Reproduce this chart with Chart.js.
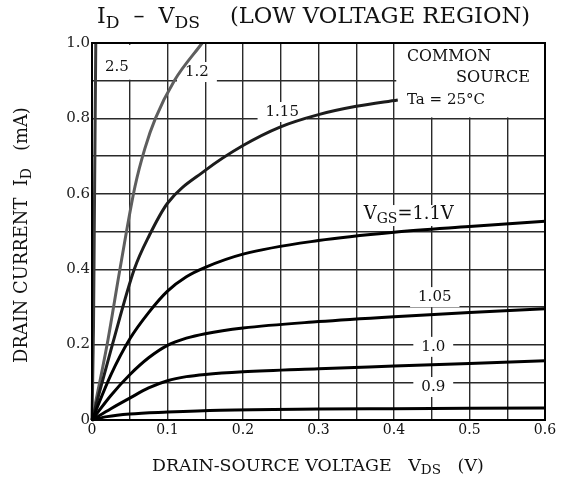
<!DOCTYPE html>
<html><head><meta charset="utf-8">
<script src="https://cdn.jsdelivr.net/npm/chart.js@4/dist/chart.umd.min.js"></script>
<style>html,body{margin:0;padding:0;background:#fff}#wrap{width:563px;height:483px}</style>
</head><body><div id="wrap"><canvas id="c" width="563" height="483"></canvas></div>
<script>
// Curves: [VDS (V), ID (mA)] per gate voltage
const vgs09  = [[0,0],[0.02,0.009],[0.05,0.016],[0.1,0.021],[0.17,0.026],[0.3,0.029],[0.4,0.03],[0.5,0.031],[0.6,0.032]];
const vgs10  = [[0,0],[0.025,0.03],[0.05,0.058],[0.075,0.085],[0.1,0.104],[0.125,0.115],[0.15,0.121],[0.2,0.128],[0.3,0.136],[0.4,0.143],[0.5,0.15],[0.6,0.157]];
const vgs105 = [[0,0],[0.025,0.065],[0.05,0.12],[0.075,0.165],[0.1,0.198],[0.125,0.217],[0.15,0.229],[0.2,0.244],[0.3,0.261],[0.4,0.274],[0.5,0.285],[0.6,0.295]];
const vgs11  = [[0,0],[0.025,0.12],[0.05,0.215],[0.075,0.285],[0.1,0.342],[0.125,0.38],[0.15,0.405],[0.2,0.44],[0.3,0.476],[0.4,0.498],[0.5,0.513],[0.6,0.527]];
const vgs115 = [[0,0],[0.027,0.2],[0.056,0.4],[0.076,0.49],[0.1,0.575],[0.15,0.662],[0.2,0.728],[0.249,0.777],[0.3,0.81],[0.35,0.832],[0.405,0.849]];
const vgs12  = [[0,0],[0.02,0.2],[0.037,0.4],[0.057,0.62],[0.07,0.72],[0.084,0.8],[0.109,0.9],[0.146,1.0]];
const vgs25  = [[0,0],[0.002,0.25],[0.003,0.5],[0.004,0.75],[0.005,1.0]];
const seriesLabels = ['0.9','1.0','1.05','1.1','1.15','1.2','2.5'];
const xTickValues = [0,0.1,0.2,0.3,0.4,0.5,0.6];
const yTickValues = [0,0.2,0.4,0.6,0.8,1.0];

const SERIF = '"DejaVu Serif","Liberation Serif",serif';
const toPts = a => a.map(p => ({x:p[0], y:p[1]}));
const allSeries = [vgs09, vgs10, vgs105, vgs11, vgs115, vgs12, vgs25];
const colors = ['#000','#000','#000','#000','#1c1c1c','#5e5e5e','#3a3a3a'];

// curve label annotations: [text, x(data), y(data)]
const curveNotes = [
  ['2.5', 0.033, 0.936],
  ['1.2', 0.139, 0.923],
  ['1.15', 0.252, 0.817],
  ['1.05', 0.454, 0.326],
  ['1.0', 0.452, 0.194],
  ['0.9', 0.452, 0.0875]
];

function textSub(ctx, parts, x, y, size) {
  let cx = x;
  for (const [t, sub] of parts) {
    ctx.font = (sub ? size*0.78 : size).toFixed(2) + 'px ' + SERIF;
    ctx.fillText(t, cx, sub ? y + size*0.28 : y);
    cx += ctx.measureText(t).width;
  }
  return cx - x;
}
function measureSub(ctx, parts, size) {
  let w = 0;
  for (const [t, sub] of parts) {
    ctx.font = (sub ? size*0.78 : size).toFixed(2) + 'px ' + SERIF;
    w += ctx.measureText(t).width;
  }
  return w;
}
function fitSub(ctx, parts, left, y, targetW) {
  const size = 20 * targetW / measureSub(ctx, parts, 20);
  textSub(ctx, parts, left, y, size);
}

const decor = {
  id: 'decor',
  beforeDatasetsDraw(chart) {
    const {ctx, scales:{x, y}} = chart;
    ctx.save();
    ctx.fillStyle = '#fff';
    ctx.font = '15px ' + SERIF;
    for (const [t, dx, dy] of curveNotes) {
      const w = ctx.measureText(t).width;
      const px = x.getPixelForValue(dx), py = y.getPixelForValue(dy);
      ctx.fillRect(px - w/2 - 8, py - 10, w + 16, 20);
    }
    const vx = x.getPixelForValue(0.358), vy = y.getPixelForValue(0.541);
    ctx.fillRect(vx - 4, vy - 11, 98, 21);
    ctx.fillRect(x.getPixelForValue(0.008), y.getPixelForValue(0.995), x.getPixelForValue(0.058)-x.getPixelForValue(0.008), y.getPixelForValue(0.9)-y.getPixelForValue(0.995)-1);
    const bx = x.getPixelForValue(0.403);
    ctx.fillRect(bx, y.top + 1, x.right - bx - 1, y.getPixelForValue(0.8) - y.top - 2);
    ctx.restore();
  },
  afterDraw(chart) {
    const {ctx, chartArea:a, scales:{x, y}} = chart;
    ctx.save();
    ctx.fillStyle = '#111';
    ctx.textBaseline = 'middle';
    ctx.textAlign = 'center';
    ctx.font = '15px ' + SERIF;
    for (const [t, dx, dy] of curveNotes) {
      ctx.fillText(t, x.getPixelForValue(dx), y.getPixelForValue(dy));
    }
    ctx.textAlign = 'left';
    fitSub(ctx, [['V',false],['GS',true],['=1.1V',false]], x.getPixelForValue(0.36), y.getPixelForValue(0.541) - 2, 90);
    fitSub(ctx, [['COMMON',false]], 407, 57, 84);
    fitSub(ctx, [['SOURCE',false]], 456, 78, 74);
    fitSub(ctx, [['Ta = 25°C',false]], 407, 100, 78);
    // frame
    ctx.strokeStyle = '#000';
    ctx.lineWidth = 2;
    ctx.strokeRect(a.left, a.top, a.right - a.left, a.bottom - a.top);
    // title
    ctx.fillStyle = '#111';
    fitSub(ctx, [['I',false],['D',true],['  –  ',false],['V',false],['DS',true]], 97, 17, 103);
    fitSub(ctx, [['(LOW VOLTAGE REGION)',false]], 230, 17, 300);
    // x axis title
    fitSub(ctx, [['DRAIN-SOURCE VOLTAGE   V',false],['DS',true],['   (V)',false]], 152, 466, 332);
    // y axis title
    ctx.translate(22, 363);
    ctx.rotate(-Math.PI/2);
    fitSub(ctx, [['DRAIN CURRENT  I',false],['D',true],['   (mA)',false]], 0, 0, 256);
    ctx.restore();
  }
};

const fmt = (v, list) => {
  const hit = list.find(t => Math.abs(t - v) < 1e-6);
  if (hit === undefined) return '';
  return hit === 0 ? '0' : hit.toFixed(1);
};

new Chart(document.getElementById('c'), {
  type: 'line',
  data: {
    datasets: allSeries.map((s, i) => ({
      label: seriesLabels[i],
      data: toPts(s),
      borderColor: colors[i],
      borderWidth: 3,
      pointRadius: 0,
      fill: false,
      cubicInterpolationMode: 'monotone',
      clip: 2
    }))
  },
  options: {
    responsive: false,
    animation: false,
    events: [],
    layout: { padding: { left: 0, right: 18, top: 43, bottom: 0 } },
    plugins: { legend: { display: false }, tooltip: { enabled: false }, title: { display: false } },
    scales: {
      x: {
        type: 'linear', min: 0, max: 0.6,
        afterFit: s => { s.height = 63; },
        afterBuildTicks: s => { s.ticks = Array.from({length: 13}, (_, i) => ({value: +(i*0.05).toFixed(2)})); },
        ticks: { autoSkip: false, maxRotation: 0, padding: 2, color: '#111',
          font: { family: SERIF, size: 14 }, callback: v => fmt(v, xTickValues) },
        grid: { color: '#2a2a2a', lineWidth: 1.4, drawTicks: false },
        border: { display: true, color: '#000', width: 2 }
      },
      y: {
        type: 'linear', min: 0, max: 1.0,
        afterFit: s => { s.width = 92; },
        afterBuildTicks: s => { s.ticks = Array.from({length: 11}, (_, i) => ({value: +(i*0.1).toFixed(1)})); },
        ticks: { autoSkip: false, padding: 2, color: '#222',
          font: { family: SERIF, size: 15 }, callback: v => fmt(v, yTickValues) },
        grid: { color: '#2a2a2a', lineWidth: 1.4, drawTicks: false },
        border: { display: true, color: '#000', width: 2 }
      }
    }
  },
  plugins: [decor]
});
</script></body></html>
